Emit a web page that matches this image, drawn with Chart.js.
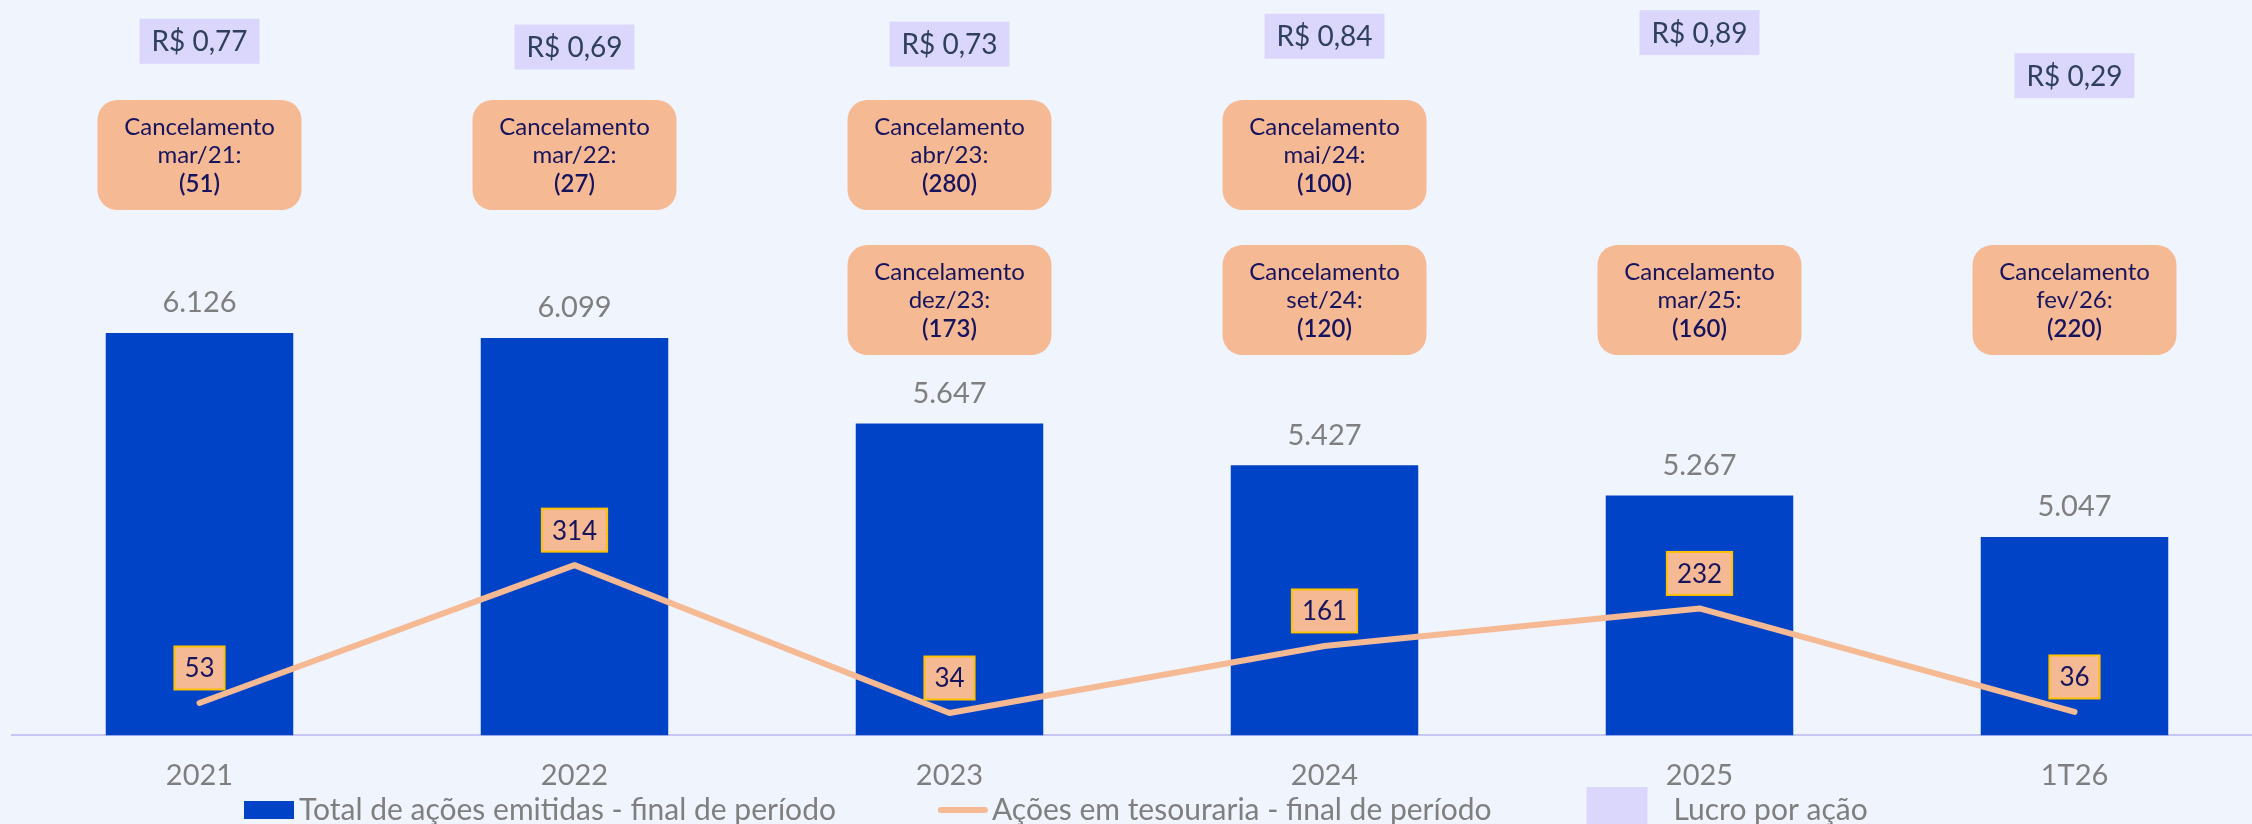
<!DOCTYPE html>
<html lang="pt-BR">
<head>
<meta charset="utf-8">
<script src="https://cdn.jsdelivr.net/npm/chart.js@4.4.1/dist/chart.umd.min.js"></script>
<style>
  html, body { margin: 0; padding: 0; background: #F0F5FD; overflow: hidden; }
  /* a área do gráfico passa um pouco da borda direita, como no original */
  #wrap { width: 2262px; height: 824px; position: relative; }
</style>
</head>
<body>
<div id="wrap"><canvas id="grafico"></canvas></div>
<script>
// dados
const categorias = ['2021', '2022', '2023', '2024', '2025', '1T26'];
const acoesEmitidas = [6126, 6099, 5647, 5427, 5267, 5047];
const acoesTesouraria = [53, 314, 34, 161, 232, 36];
const lucroPorAcao = [0.77, 0.69, 0.73, 0.84, 0.89, 0.29];
// cancelamentos (linha de cima e linha de baixo)
const cancelMes1 = ['mar/21', 'mar/22', 'abr/23', 'mai/24', null, null];
const cancelQtd1 = [51, 27, 280, 100, null, null];
const cancelMes2 = [null, null, 'dez/23', 'set/24', 'mar/25', 'fev/26'];
const cancelQtd2 = [null, null, 173, 120, 160, 220];

const FONTE = 'Lato, "Noto Sans", sans-serif';
const AZUL = '#0043C6';
const PESSEGO = '#F5B994';
const LAVANDA = '#DBD6FB';
const OURO = '#FFC000';
const MARINHO = '#17145E';
const ARDOSIA = '#2F3F5E';
const CINZA = '#7F7F7F';

function formatarMilhar(v) {
    return String(v).replace(/\B(?=(\d{3})+(?!\d))/g, '.');
}

function formatarReal(v) {
    return 'R$ ' + v.toFixed(2).replace('.', ',');
}

function caixaCancelamento(ctx, x, cy, mes, qtd) {
    const w = 204, h = 110;
    ctx.fillStyle = PESSEGO;
    ctx.beginPath();
    ctx.roundRect(x - w / 2, cy - h / 2, w, h, 20);
    ctx.fill();
    ctx.fillStyle = MARINHO;
    ctx.font = '24px ' + FONTE;
    ctx.fillText('Cancelamento', x, cy - 28);
    ctx.fillText(mes + ':', x, cy);
    ctx.font = '600 24px ' + FONTE;
    ctx.fillText('(' + qtd + ')', x, cy + 29);
}

const rotulosPlugin = {
    id: 'rotulos',
    afterDatasetsDraw(chart) {
        const ctx = chart.ctx;
        const xs = chart.scales.x;
        const topo = chart.chartArea.top;
        ctx.save();
        ctx.textAlign = 'center';
        ctx.textBaseline = 'middle';

        // valores acima das barras
        ctx.font = '29px ' + FONTE;
        ctx.fillStyle = CINZA;
        chart.getDatasetMeta(0).data.forEach((bar, i) => {
            ctx.fillText(formatarMilhar(acoesEmitidas[i]), bar.x, bar.y - 30);
        });

        // ações em tesouraria
        ctx.font = '26px ' + FONTE;
        chart.getDatasetMeta(1).data.forEach((pt, i) => {
            const txt = String(acoesTesouraria[i]);
            const w = ctx.measureText(txt).width + 20, h = 43;
            const cy = pt.y - 35;
            ctx.fillStyle = PESSEGO;
            ctx.fillRect(pt.x - w / 2, cy - h / 2, w, h);
            ctx.strokeStyle = OURO;
            ctx.lineWidth = 2;
            ctx.strokeRect(pt.x - w / 2, cy - h / 2, w, h);
            ctx.fillStyle = MARINHO;
            ctx.fillText(txt, pt.x, cy + 1);
        });

        // lucro por ação
        ctx.font = '28px ' + FONTE;
        chart.getDatasetMeta(2).data.forEach((pt, i) => {
            const w = 120, h = 45;
            ctx.fillStyle = LAVANDA;
            ctx.fillRect(pt.x - w / 2, pt.y - h / 2, w, h);
            ctx.fillStyle = ARDOSIA;
            ctx.fillText(formatarReal(lucroPorAcao[i]), pt.x, pt.y + 1);
        });

        // cancelamentos
        categorias.forEach((c, i) => {
            const x = xs.getPixelForValue(i);
            if (cancelMes1[i]) caixaCancelamento(ctx, x, topo + 155, cancelMes1[i], cancelQtd1[i]);
            if (cancelMes2[i]) caixaCancelamento(ctx, x, topo + 300, cancelMes2[i], cancelQtd2[i]);
        });
        ctx.restore();
    }
};

// legenda desenhada à mão para acertar espaçamentos
const legendaPlugin = {
    id: 'legenda',
    afterDraw(chart) {
        const ctx = chart.ctx;
        const ds = chart.data.datasets;
        const y = 810;
        let x = 244;
        ctx.save();
        ctx.font = '30px ' + FONTE;
        ctx.textBaseline = 'middle';
        ctx.textAlign = 'left';

        ctx.fillStyle = ds[0].backgroundColor;
        ctx.fillRect(x, y - 9, 50, 18);
        x += 55;
        ctx.fillStyle = CINZA;
        ctx.fillText(ds[0].label, x, y);
        x += ctx.measureText(ds[0].label).width + 102;

        ctx.strokeStyle = ds[1].borderColor;
        ctx.lineWidth = 6;
        ctx.lineCap = 'round';
        ctx.beginPath();
        ctx.moveTo(x + 3, y);
        ctx.lineTo(x + 47, y);
        ctx.stroke();
        x += 54;
        ctx.fillStyle = CINZA;
        ctx.fillText(ds[1].label, x, y);
        x += ctx.measureText(ds[1].label).width + 95;

        ctx.fillStyle = ds[2].backgroundColor;
        ctx.fillRect(x, y - 23, 61, 46);
        x += 87;
        ctx.fillStyle = CINZA;
        ctx.fillText(ds[2].label, x, y);
        ctx.restore();
    }
};

new Chart(document.getElementById('grafico'), {
    type: 'bar',
    data: {
        labels: categorias,
        datasets: [
            {
                type: 'bar',
                label: 'Total de ações emitidas - final de período',
                data: acoesEmitidas,
                backgroundColor: AZUL,
                yAxisID: 'y',
                order: 2,
                barPercentage: 0.5,
                categoryPercentage: 1
            },
            {
                type: 'line',
                label: 'Ações em tesouraria - final de período',
                data: acoesTesouraria,
                borderColor: PESSEGO,
                borderWidth: 6,
                borderCapStyle: 'round',
                borderJoinStyle: 'round',
                pointRadius: 0,
                yAxisID: 'yTes',
                order: 1
            },
            {
                type: 'line',
                label: 'Lucro por ação',
                data: lucroPorAcao,
                showLine: false,
                pointRadius: 0,
                backgroundColor: LAVANDA,
                yAxisID: 'yLpa',
                order: 3
            }
        ]
    },
    options: {
        responsive: true,
        maintainAspectRatio: false,
        animation: false,
        layout: { padding: { left: 12, right: 0, top: 0, bottom: 8 } },
        plugins: {
            legend: { display: false },
            tooltip: { enabled: false }
        },
        scales: {
            x: {
                grid: { display: false, drawTicks: false },
                border: { color: '#C8C6F4', width: 2 },
                ticks: { color: CINZA, font: { family: FONTE, size: 29 }, padding: 23 }
            },
            y: { display: false, min: 4000, max: 7886 },
            yTes: { display: false, min: -8, max: 1384 },
            yLpa: { display: false, min: -8.9, max: 1.345 }
        }
    },
    plugins: [rotulosPlugin, legendaPlugin]
});
</script>
</body>
</html>
